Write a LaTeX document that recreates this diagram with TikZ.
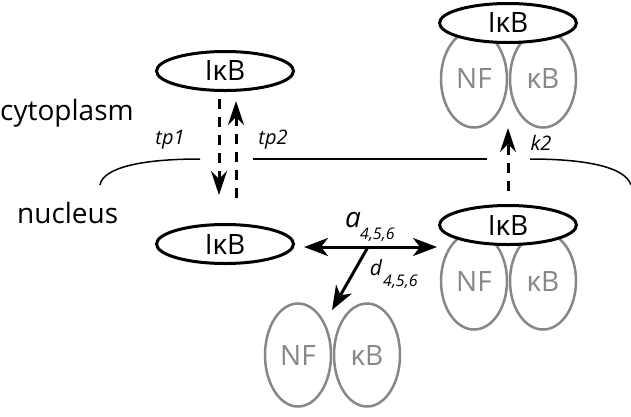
\documentclass[tikz,border=0pt]{standalone}
\usepackage{fontspec}
\setmainfont{Open Sans}
\usetikzlibrary{shapes.geometric,arrows.meta}
\definecolor{grayc}{RGB}{135,135,135}
\begin{document}
\begin{tikzpicture}[x=1pt,y=-1pt,
  ikb/.style={ellipse, draw=black, line width=3pt, fill=white, minimum width=137pt, minimum height=39pt, inner sep=0pt, font=\fontsize{28}{28}\selectfont},
  sub/.style={ellipse, draw=grayc, line width=2.5pt, minimum width=66pt, minimum height=97pt, inner sep=0pt, text=grayc, font=\fontsize{28}{28}\selectfont},
  dasharr/.style={line width=3pt, dash pattern=on 10pt off 8pt, -{Stealth[length=24pt,width=16pt,inset=8pt]}},
  solarr/.style={line width=3pt, -{Stealth[length=24pt,width=18pt,inset=7pt]}},
  dblarr/.style={line width=3pt, {Stealth[length=24pt,width=18pt,inset=7pt]}-{Stealth[length=24pt,width=18pt,inset=7pt]}},
  mem/.style={line width=1.5pt},
  lab/.style={inner sep=0pt, font=\itshape\fontsize{20}{20}\selectfont},
  region/.style={inner sep=0pt, anchor=base west, font=\fontsize{28}{28}\selectfont}
]
\useasboundingbox (0,0) rectangle (631,416);

% region labels
\node[region] (cyto) at (0,120) {cytoplasm};
\node[region] (nuc) at (17,223) {nucleus};

% membrane
\draw[mem] (100,185) .. controls (103,168) and (140,159) .. (200,159);
\draw[mem] (253,159) -- (487,159);
\draw[mem] (530,159) .. controls (582,159) and (625,166) .. (631,185);

% free IkB
\node[ikb] (tl) at (225,71) {IκB};
\node[ikb] (bl) at (225,244) {IκB};

% top-right complex
\node[sub] (nfTR) at (474,79) {NF};
\node[sub] (kbTR) at (543,79) {κB};
\node[ikb] (ikTR) at (508,23) {IκB};

% bottom-right complex
\node[sub] (nfBR) at (474,281) {NF};
\node[sub] (kbBR) at (543,281) {κB};
\node[ikb] (ikBR) at (508,225) {IκB};

% free NF-kB
\node[sub, minimum height=103pt] (nfB) at (298,355) {NF};
\node[sub, minimum height=103pt] (kbB) at (367,355) {κB};

% transport arrows
\draw[dasharr, shorten <=7pt, shorten >=28pt] ([xshift=-6pt]tl.south) -- ([xshift=-6pt]bl.north);
\draw[dasharr, shorten <=25pt, shorten >=9pt] ([xshift=11pt]bl.north) -- ([xshift=11pt]tl.south);
\draw[dasharr, shorten <=13pt, shorten >=84pt] (ikBR.north) -- (ikTR.south);

\node[lab] (tp1) at (170,140) {tp1};
\node[lab] (tp2) at (273,140) {tp2};
\node[lab] (k2) at (541,143) {k2};

% association / dissociation
\coordinate (aL) at (304,247);
\coordinate (aR) at (437,247);
\coordinate (aM) at (368,247);
\coordinate (dT) at (332,310);
\draw[dblarr] (aL) -- (aR);
\draw[solarr] (aM) -- (dT);

\node[inner sep=0pt, anchor=base, font=\itshape\fontsize{28}{28}\selectfont] (alab) at (353,227) {a};
\node[inner sep=0pt, anchor=base west, font=\itshape\fontsize{16}{16}\selectfont] (asub) at (360,239) {4,5,6};
\node[inner sep=0pt, anchor=base, font=\itshape\fontsize{21}{21}\selectfont] (dlab) at (376,275) {d};
\node[inner sep=0pt, anchor=base west, font=\itshape\fontsize{16}{16}\selectfont] (dsub) at (383,286) {4,5,6};
\end{tikzpicture}
\end{document}
